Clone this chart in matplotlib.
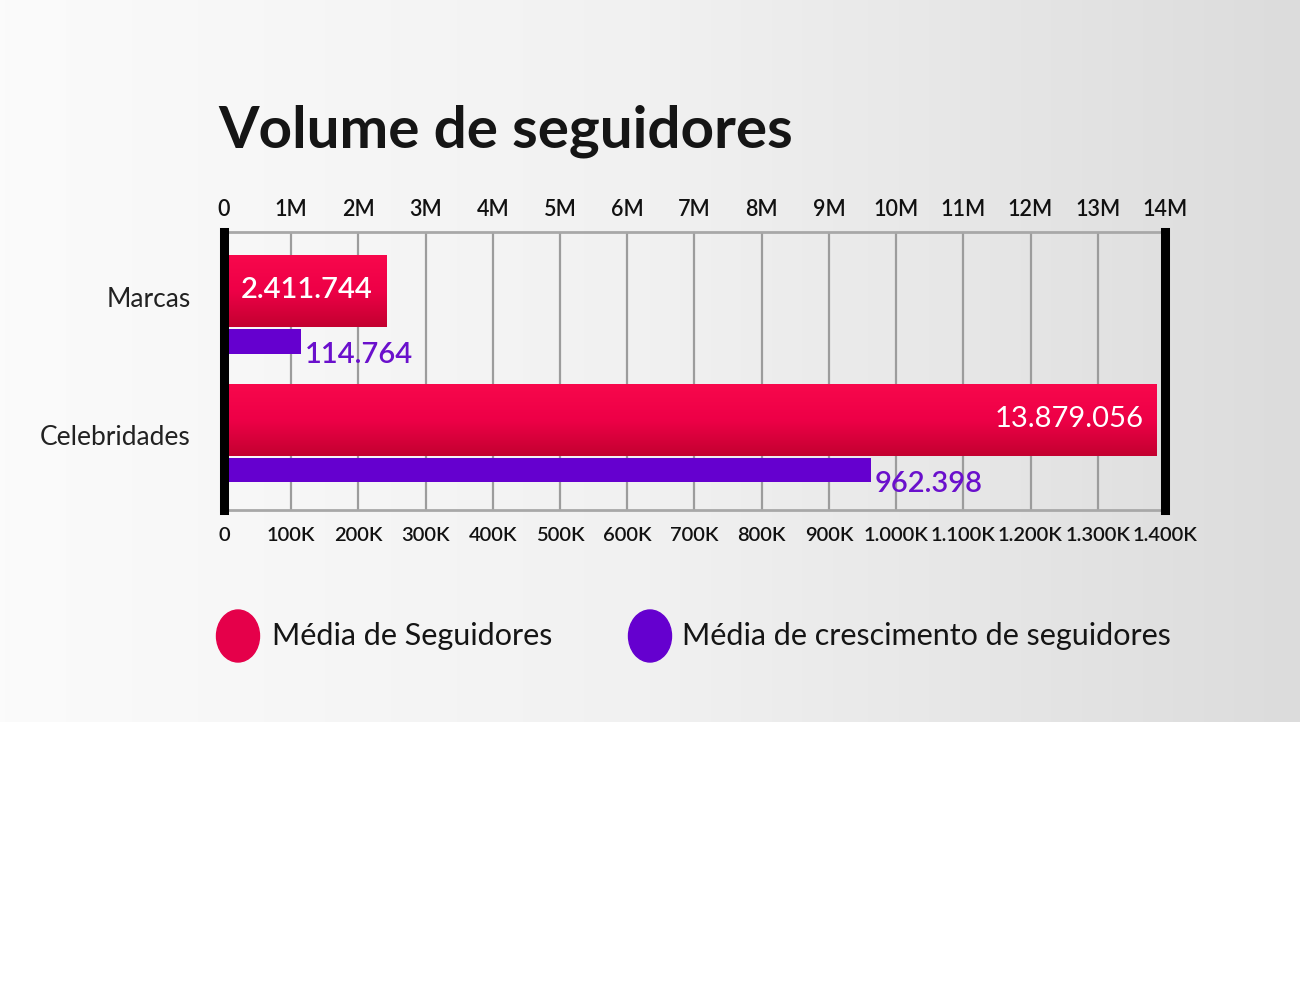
import numpy as np
import matplotlib
matplotlib.use("Agg")
import matplotlib.pyplot as plt
from matplotlib.colors import LinearSegmentedColormap
from matplotlib.patches import Ellipse

# data
categories = ["Marcas", "Celebridades"]
media_seguidores = [2411744, 13879056]
media_crescimento = [114764, 962398]
labels_seg = ["2.411.744", "13.879.056"]
labels_cresc = ["114.764", "962.398"]
top_ticks = list(range(0, 15))  # millions
top_labels = ["0"] + ["%dM" % i for i in range(1, 15)]
bottom_ticks = list(range(0, 1500, 100))  # thousands
bottom_labels = ["0", "100K", "200K", "300K", "400K", "500K", "600K", "700K",
                 "800K", "900K", "1.000K", "1.100K", "1.200K", "1.300K", "1.400K"]

FONT = ["Lato", "DejaVu Sans"]
plt.rcParams["font.family"] = FONT

RED = "#ec0046"
PURPLE = "#6500cf"
red_cmap = LinearSegmentedColormap.from_list("red", ["#f8084c", "#ee0047", "#c30030"])

fig = plt.figure(figsize=(13, 9.82), dpi=100)

# grey gradient background for top part
bg = fig.add_axes([0, 0.265, 1, 0.735], zorder=-10)
grad = np.linspace(0, 1, 256).reshape(1, -1)
bg.imshow(grad, aspect="auto", cmap=LinearSegmentedColormap.from_list("bg", ["#fbfbfb", "#f1f1f1", "#dcdcdc"]),
          extent=[0, 1, 0, 1])
bg.set_axis_off()

ax = fig.add_axes([0.1723, 0.4807, 0.7238, 0.2830])
ax.patch.set_alpha(0)
ax2 = ax.twiny()
ax2.patch.set_alpha(0)

ypos = np.array([1.0, 0.0])
pur_off = -0.39
red_h = 0.56
pur_h = 0.19

bars = ax.barh(ypos, np.array(media_seguidores) / 1e6, height=red_h, color=RED, zorder=2)
vgrad = np.linspace(0, 1, 100).reshape(-1, 1)
for b in bars:
    im = ax.imshow(vgrad, cmap=red_cmap, aspect="auto", zorder=2.5,
                   extent=[b.get_x(), b.get_x() + b.get_width(), b.get_y(), b.get_y() + b.get_height()],
                   origin="upper")
    im.set_clip_path(b)

weights_seg = ["semibold", "normal"]
for y, v, t, w in zip(ypos, media_seguidores, labels_seg, weights_seg):
    ax.text(v / 1e6 - 0.2, y + 0.01, t, ha="right", va="center", color="white",
            fontsize=21, fontweight=w, zorder=4)

ax.set_xlim(0, 14)
ax.set_ylim(-0.698, 1.457)
ax.xaxis.tick_top()
ax.set_xticks(top_ticks)
ax.set_xticklabels(top_labels, fontsize=15.5, color="#111111", fontweight="semibold")
ax.tick_params(axis="x", length=0, pad=9)
ax.set_yticks([1 - 0.05, 0 - 0.12])
ax.set_yticklabels(categories, fontsize=19, color="#222222")
ax.tick_params(axis="y", length=0, pad=24)
ax.grid(axis="x", color="#9c9c9c", linewidth=1.6, zorder=0)
ax.set_axisbelow(True)
for s in ["top", "bottom"]:
    ax.spines[s].set_color("#a8a8a8")
    ax.spines[s].set_linewidth(2)
for s in ["left", "right"]:
    ax.spines[s].set_visible(False)

ax2.barh(ypos + pur_off, np.array(media_crescimento) / 1e3, height=pur_h, color=PURPLE, zorder=3)
for y, v, t in zip(ypos, media_crescimento, labels_cresc):
    ax2.text(v / 1e3 + 6, y + pur_off - 0.11, t, ha="left", va="center", color="#6a10cc",
             fontsize=21, fontweight="semibold", zorder=4)
ax2.set_xlim(0, 1400)
ax2.set_ylim(-0.698, 1.457)
ax2.xaxis.tick_bottom()
ax2.set_xticks(bottom_ticks)
ax2.set_xticklabels(bottom_labels, fontsize=14.5, color="#111111", fontweight="semibold")
ax2.tick_params(axis="x", length=0, pad=12)
for s in ["top", "bottom"]:
    ax2.spines[s].set_visible(False)
for s in ["left", "right"]:
    ax2.spines[s].set_color("black")
    ax2.spines[s].set_linewidth(6.5)
    ax2.spines[s].set_zorder(6)

# title
fig.text(0.168, 0.866, "Volume de seguidores", fontsize=42, fontweight="bold",
         color="#151515", ha="left", va="center")

# legend
fig.add_artist(Ellipse((238 / 1300, 1 - 636 / 982), 43 / 1300, 52 / 982, color="#e5004a"))
fig.add_artist(Ellipse((650 / 1300, 1 - 636 / 982), 43 / 1300, 52 / 982, color=PURPLE))
fig.text(272 / 1300, 1 - 636 / 982, "Média de Seguidores", fontsize=22, color="#151515",
         ha="left", va="center")
fig.text(682 / 1300, 1 - 636 / 982, "Média de crescimento de seguidores", fontsize=22,
         color="#151515", ha="left", va="center")

fig.savefig("out.png", dpi=100)
